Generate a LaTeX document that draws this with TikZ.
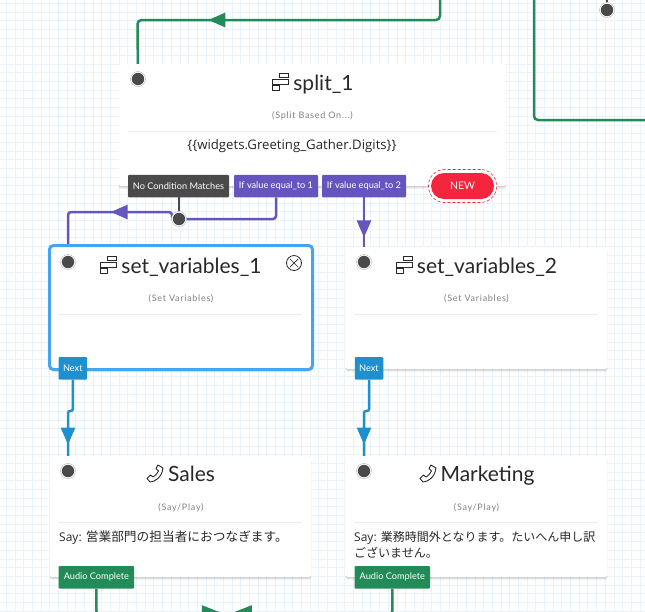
\documentclass[tikz,border=0pt]{standalone}
\usepackage{fontspec}
\setmainfont{Lato}
\newfontfamily\jpfont{Noto Sans CJK JP}
\newfontfamily\bodyfont{Open Sans}
\usetikzlibrary{arrows.meta, shadows, decorations.markings, backgrounds}
\definecolor{flowGreen}{RGB}{34, 139, 88}
\definecolor{flowPurple}{RGB}{102, 85, 190}
\definecolor{flowBlue}{RGB}{30, 143, 207}
\definecolor{flowGray}{RGB}{74, 74, 74}
\definecolor{flowRed}{RGB}{243, 38, 62}
\definecolor{flowSelect}{RGB}{70, 165, 240}
\definecolor{flowGrid}{RGB}{232, 243, 252}
\definecolor{flowRule}{RGB}{238, 238, 238}
\definecolor{flowText}{RGB}{40, 40, 40}

\begin{document}
\begin{tikzpicture}[
    x=1pt, y=-1pt,
    card/.style={rectangle, fill=white, rounded corners=1.5pt,
      drop shadow={shadow xshift=0pt, shadow yshift=-.8pt, opacity=.08, fill=black},
      drop shadow={shadow xshift=0pt, shadow yshift=-1.8pt, opacity=.07, fill=black},
      drop shadow={shadow xshift=0pt, shadow yshift=-2.8pt, opacity=.05, fill=black}},
    selected/.style={draw=flowSelect, line width=3pt, rounded corners=4pt},
    title/.style={font=\fontsize{21}{23}\selectfont, text=flowText, inner sep=0pt, anchor=base},
    kind/.style={font=\fontsize{9}{11}\selectfont\addfontfeature{LetterSpace=8}, text=black!50, inner sep=0pt},
    body/.style={font=\bodyfont\fontsize{12}{16}\selectfont, text=flowText, inner sep=0pt, align=left},
    btn/.style={rectangle, rounded corners=1pt, text=white, font=\fontsize{9.2}{11}\selectfont, inner sep=0pt, minimum height=22.5pt},
    port/.style={circle, draw=black!30, line width=.4pt, fill=white, minimum size=15pt, inner sep=0pt, path picture={\fill[flowGray] (path picture bounding box.center) circle (6.2pt);}},
    arr/.style={line width=2.5pt, rounded corners=4pt},
    tipat/.style={postaction={decorate, decoration={markings, mark=at position #1 with {\arrow{Triangle[length=17pt, width=14pt]}}}}},
    bigtipat/.style={postaction={decorate, decoration={markings, mark=at position #1 with {\arrow{Triangle[length=25pt, width=19pt]}}}}},
    divider/.style={flowRule, line width=1pt},
    icon/.style={line width=.9pt, flowText},
    pics/splitmark/.style={code={
        \draw[icon] (7.5,0) rectangle (16.7,4.6);
        \draw[icon] (0,6.2) rectangle (16.7,11);
        \draw[icon] (0,12.7) rectangle (7.5,17.3);
    }},
    pics/phonemark/.style={code={
        \draw[icon, line join=round] (11,0) -- (16,3) .. controls (15,12) and (8,17) .. (3,17) -- (0,13.5) -- (3.5,10) -- (6,12) .. controls (8,11) and (10,9) .. (11.5,6) -- (9,3.5) -- cycle;
    }}
  ]
    \useasboundingbox (0,0) rectangle (645,611);

    % cards
    \node[card, minimum width=387pt, minimum height=122pt] (split) at (312.5,125) {};
    \node[card, selected, minimum width=263pt, minimum height=124pt] (setone) at (181,307.5) {};
    \node[card, minimum width=261pt, minimum height=122pt] (settwo) at (476.5,308) {};
    \node[card, minimum width=261pt, minimum height=121pt] (sales) at (180.5,516.5) {};
    \node[card, minimum width=261pt, minimum height=121pt] (marketing) at (476.5,516.5) {};

    % titles
    \node[title] (splitTitle) at (323.5,90.5) {split\_1};
    \node[title] (setoneTitle) at (191.5,273) {set\_variables\_1};
    \node[title] (settwoTitle) at (487,273) {set\_variables\_2};
    \node[title] (salesTitle) at (191.5,481) {Sales};
    \node[title] (marketingTitle) at (487.5,481) {Marketing};
    \pic at (272,73) {splitmark};
    \pic at (100,256) {splitmark};
    \pic at (396,256) {splitmark};
    \pic at (147,465) {phonemark};
    \pic at (420,465) {phonemark};

    \node[kind] (splitKind) at (312.5,116) {(Split Based On...)};
    \node[kind] (setoneKind) at (181,298.5) {(Set Variables)};
    \node[kind] (settwoKind) at (476.5,298.5) {(Set Variables)};
    \node[kind] (salesKind) at (181,507.5) {(Say/Play)};
    \node[kind] (marketingKind) at (476.5,507.5) {(Say/Play)};

    \draw[divider] (128,131) -- (497,131);
    \draw[divider] (58,314) -- (302,314);
    \draw[divider] (354,314) -- (598,314);
    \draw[divider] (58,522) -- (302,522);
    \draw[divider] (354,522) -- (598,522);

    \node[body, font=\bodyfont\fontsize{13.2}{16}\selectfont] (splitBody) at (292,146) {\{\{widgets.Greeting\_Gather.Digits\}\}};
    \node[body, anchor=west] (salesBody) at (59,538) {Say: {\jpfont\fontsize{12.7}{16}\selectfont 営業部門の担当者におつなぎます。}};
    \node[body, anchor=north west] (marketingBody) at (354,531) {Say: {\jpfont\fontsize{12}{16}\selectfont 業務時間外となります。たいへん申し訳}\\{\jpfont\fontsize{12}{16}\selectfont ございません。}};

    % buttons
    \node[btn, fill=flowGray, minimum width=101pt] (noMatch) at (178.5,186) {No Condition Matches};
    \node[btn, fill=flowPurple, minimum width=84pt] (valueOne) at (276,186) {If value equal\_to 1};
    \node[btn, fill=flowPurple, minimum width=84pt] (valueTwo) at (364,186) {If value equal\_to 2};
    \node[btn, fill=flowBlue, minimum width=28.5pt] (setoneNext) at (72.8,368.3) {Next};
    \node[btn, fill=flowBlue, minimum width=28.5pt] (settwoNext) at (369,368.3) {Next};
    \node[btn, fill=flowGreen, minimum width=75.5pt] (salesDone) at (96.4,577.3) {Audio Complete};
    \node[btn, fill=flowGreen, minimum width=75.5pt] (marketingDone) at (392.3,577.3) {Audio Complete};
    \node[rectangle, draw=flowRed, densely dashed, line width=.6pt, fill=white, rounded corners=16pt, minimum width=68pt, minimum height=33pt] (newRing) at (462.5,186) {};
    \node[rectangle, fill=flowRed, rounded corners=13pt, minimum width=63pt, minimum height=26pt, text=white, font=\fontsize{10.5}{12}\selectfont] (newBtn) at (462.5,186) {NEW};

    % ports
    \node[port] (splitPort) at (138,79) {};
    \node[port] (setonePort) at (68,262) {};
    \node[port] (settwoPort) at (364,262) {};
    \node[port] (salesPort) at (68,471) {};
    \node[port] (marketingPort) at (364,471) {};
    \node[port] (noMatchPort) at (179,219) {};
    \node[port] (upperPort) at (607,10) {};
    \node[circle, draw=flowText, line width=.8pt, minimum size=15pt, inner sep=0pt] (closeBtn) at (294,263) {};
    \draw[flowText, line width=.7pt, shorten >=2pt, shorten <=2pt] (closeBtn.45) -- (closeBtn.225);
    \draw[flowText, line width=.7pt, shorten >=2pt, shorten <=2pt] (closeBtn.135) -- (closeBtn.315);

    \coordinate (greetIn) at (440,-3);
    \coordinate (greetBend) at (440,20);
    \coordinate (splitBend) at (137.5,20);
    \coordinate (rightIn) at (534,-3);
    \coordinate (rightBend) at (534,120);
    \coordinate (rightOut) at (650,120);
    \coordinate (upperIn) at (607,-3);
    \coordinate (oneBend) at (276,219);
    \coordinate (leftBend) at (172,219);
    \coordinate (leftTop) at (172,212);
    \coordinate (setoneBend) at (68,212);
    \coordinate (nextBendA) at (72.8,411);
    \coordinate (nextBendB) at (68,411);
    \coordinate (nextBendC) at (369,411);
    \coordinate (nextBendD) at (364,411);
    \coordinate (mergeLeft) at (232,615);
    \coordinate (mergeRight) at (222,615);

    % grid and connectors
    \begin{scope}[on background layer]
      \clip (0,0) rectangle (645,611);
      \fill[white] (0,0) rectangle (645,611);
      \foreach \gx in {0,...,74} \draw[flowGrid, line width=.8pt] (6.3+\gx*8.68,0) -- (6.3+\gx*8.68,611);
      \foreach \gy in {0,...,70} \draw[flowGrid, line width=.8pt] (0,3.4+\gy*8.68) -- (645,3.4+\gy*8.68);

      \draw[arr, flowGreen, tipat=253pt] (greetIn) -- (greetBend) -- (splitBend) -- (splitPort);
      \draw[arr, flowGreen] (rightIn) -- (rightBend) -- (rightOut);
      \draw[arr, flowGray] (upperIn) -- (upperPort);
      \draw[arr, rounded corners=3pt, flowPurple, tipat=190pt] (valueOne.south -| oneBend) -- (oneBend) -- (leftBend) -- (leftTop) -- (setoneBend) -- (setonePort);
      \draw[arr, flowGray] (noMatch.south -| noMatchPort) -- (noMatchPort);
      \draw[arr, flowPurple, tipat=40pt] (valueTwo.south) -- (settwoPort);
      \draw[arr, rounded corners=2pt, flowBlue, tipat=68pt] (setoneNext.south) -- (nextBendA) -- (nextBendB) -- (salesPort);
      \draw[arr, rounded corners=2pt, flowBlue, tipat=68pt] (settwoNext.south) -- (nextBendC) -- (nextBendD) -- (marketingPort);
      \draw[arr, flowGreen, bigtipat=155pt] (salesDone.south) |- (mergeLeft);
      \draw[arr, flowGreen, bigtipat=190pt] (marketingDone.south) |- (mergeRight);
    \end{scope}
  \end{tikzpicture}
\end{document}
